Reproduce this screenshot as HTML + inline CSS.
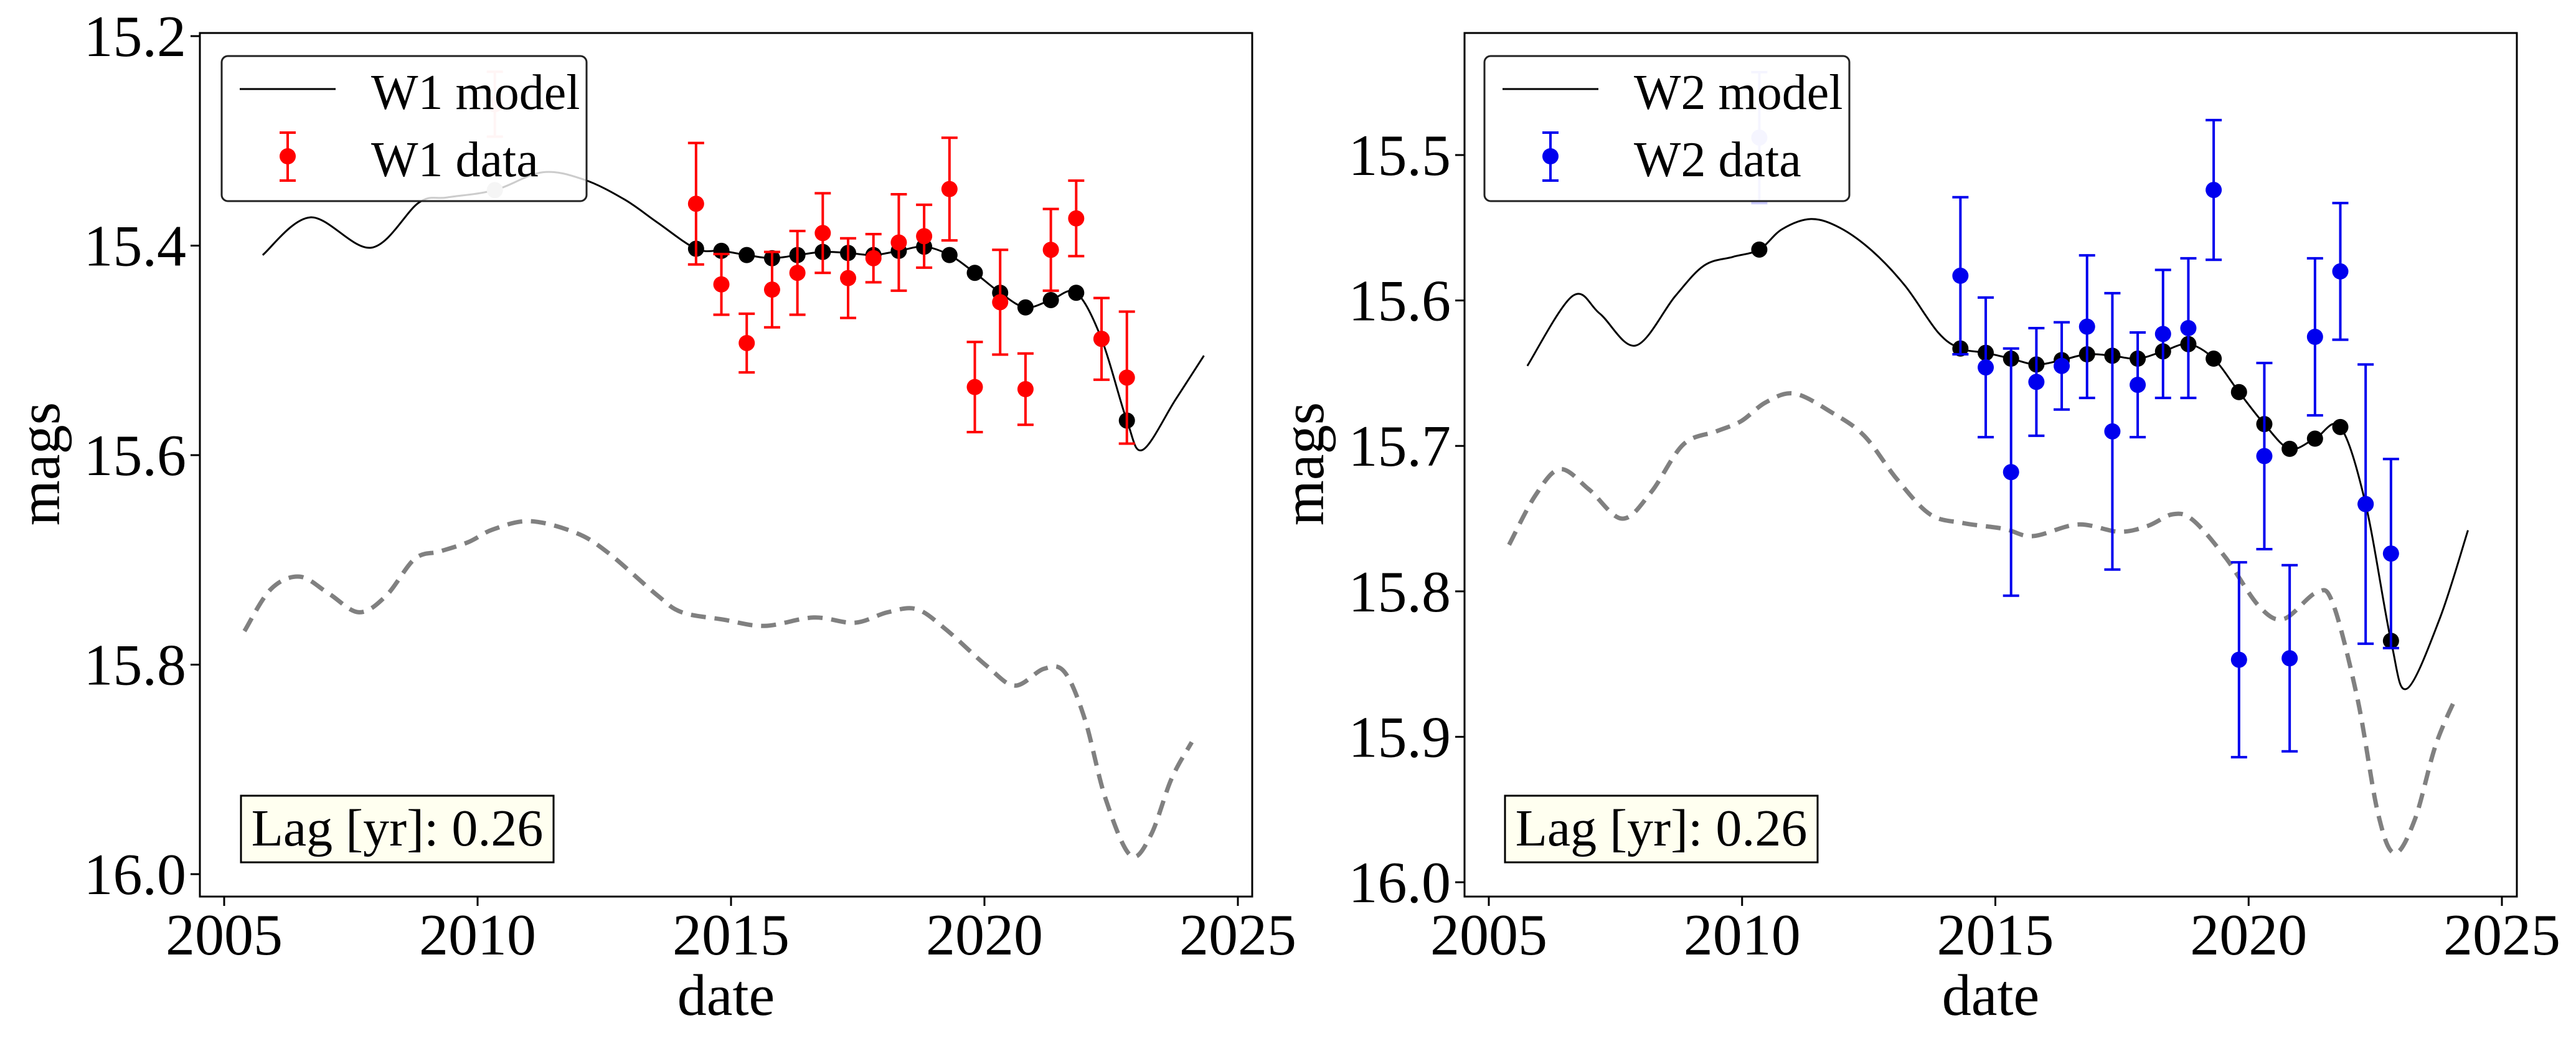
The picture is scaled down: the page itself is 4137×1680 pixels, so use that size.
<!DOCTYPE html>
<html><head><meta charset="utf-8"><style>
html,body{margin:0;padding:0;background:#fff}
svg{display:block;font-family:"Liberation Serif",serif}
text{font-family:"Liberation Serif",serif}
</style></head><body>
<svg id="fig" width="4137" height="1680" viewBox="0 0 4137 1680" xmlns="http://www.w3.org/2000/svg"></svg>
<script>
const times = [2014.31,2014.81,2015.31,2015.81,2016.31,2016.81,2017.31,2017.81,2018.31,2018.81,2019.31,2019.81,2020.31,2020.81,2021.31,2021.81,2022.31,2022.81];
const w1Data = [15.360,15.437,15.493,15.442,15.426,15.388,15.431,15.412,15.397,15.391,15.346,15.535,15.454,15.537,15.404,15.374,15.489,15.526];
const w1Err = [0.058,0.029,0.028,0.036,0.04,0.038,0.038,0.023,0.046,0.03,0.049,0.043,0.05,0.034,0.039,0.036,0.039,0.063];
const w1Fit = [15.403,15.405,15.409,15.412,15.409,15.406,15.407,15.409,15.405,15.401,15.409,15.426,15.445,15.459,15.452,15.445,15.489,15.567];
const w1Faded = [2010.34,15.265,0.031,15.347];
const w1ModelT = [2005.76,2006.7,2007.9,2008.84,2009.4,2010.34,2011.28,2012.1,2012.9,2013.55];
const w1ModelM = [15.409,15.373,15.402,15.359,15.354,15.347,15.330,15.337,15.356,15.378];
const w1TailT = [2023.12,2023.77,2024.33];
const w1TailM = [15.595,15.547,15.505];
const w1DashT = [2005.4,2005.92,2006.49,2007.06,2007.66,2008.2,2008.76,2009.25,2009.82,2010.3,2011.03,2011.93,2012.57,2013.55,2014.03,2014.85,2015.66,2016.63,2017.44,2018.09,2018.66,2019.23,2020.04,2020.6,2021.17,2021.58,2021.98,2022.39,2022.88,2023.28,2023.69,2024.09];
const w1DashM = [15.768,15.728,15.716,15.732,15.750,15.734,15.699,15.692,15.683,15.671,15.663,15.674,15.693,15.734,15.750,15.757,15.763,15.755,15.760,15.750,15.747,15.766,15.801,15.820,15.804,15.807,15.852,15.928,15.982,15.963,15.909,15.874];

const w2Data = [15.583,15.646,15.718,15.656,15.645,15.618,15.690,15.658,15.623,15.619,15.524,15.847,15.707,15.846,15.625,15.580,15.740,15.774];
const w2Err = [0.054,0.048,0.085,0.037,0.03,0.049,0.095,0.036,0.044,0.048,0.048,0.067,0.064,0.064,0.054,0.047,0.096,0.065];
const w2Fit = [15.633,15.636,15.640,15.644,15.641,15.637,15.638,15.640,15.635,15.630,15.640,15.663,15.685,15.702,15.695,15.687,15.740,15.834];
const w2Faded = [2010.34,15.488,0.045,15.565];
const w2ModelT = [2005.76,2006.65,2007.19,2007.9,2008.68,2009.25,2009.82,2010.34,2010.79,2011.36,2011.93,2012.57,2013.22,2013.87];
const w2ModelM = [15.645,15.597,15.609,15.631,15.597,15.576,15.570,15.565,15.551,15.544,15.550,15.566,15.590,15.622];
const w2TailT = [2023.12,2023.77,2024.33];
const w2TailM = [15.867,15.819,15.758];
const w2DashT = [2005.4,2005.92,2006.41,2006.98,2007.63,2008.2,2008.84,2009.49,2009.98,2010.47,2011.03,2011.77,2012.41,2013.06,2013.71,2014.36,2015.17,2015.74,2016.63,2017.44,2018.01,2018.5,2018.9,2019.55,2020.2,2020.69,2021.33,2021.66,2022.15,2022.55,2022.88,2023.28,2023.69,2024.09];
const w2DashM = [15.768,15.734,15.716,15.730,15.750,15.732,15.699,15.690,15.683,15.670,15.664,15.677,15.693,15.723,15.747,15.753,15.757,15.762,15.754,15.759,15.755,15.747,15.751,15.777,15.810,15.819,15.801,15.808,15.874,15.952,15.980,15.957,15.906,15.873];

const xTicks = [2005,2010,2015,2020,2025];
const w1YTicks = [15.2,15.4,15.6,15.8,16.0];
const w2YTicks = [15.5,15.6,15.7,15.8,15.9,16.0];

const NS="http://www.w3.org/2000/svg";
const svg=document.getElementById('fig');
function mk(tag,attrs,parent){const e=document.createElementNS(NS,tag);for(const k in attrs)e.setAttribute(k,attrs[k]);(parent||svg).appendChild(e);return e;}
function spline(pts){let d=`M${pts[0][0]},${pts[0][1]}`;for(let i=0;i<pts.length-1;i++){const p0=pts[Math.max(0,i-1)],p1=pts[i],p2=pts[i+1],p3=pts[Math.min(pts.length-1,i+2)];const c1=[p1[0]+(p2[0]-p0[0])/6,p1[1]+(p2[1]-p0[1])/6],c2=[p2[0]-(p3[0]-p1[0])/6,p2[1]-(p3[1]-p1[1])/6];d+=` C${c1[0]},${c1[1]} ${c2[0]},${c2[1]} ${p2[0]},${p2[1]}`;}return d;}
const FF='"Liberation Serif", serif';

function panel(cfg){
  const g=mk('g',{});
  
  
  const X=t=>cfg.x0+(t-2005)*(cfg.x1-cfg.x0)/20;
  const Y=m=>cfg.y0+(m-cfg.m0)*(cfg.y1-cfg.y0)/(cfg.m1-cfg.m0);
  const dp=cfg.dashT.map((t,i)=>[X(t),Y(cfg.dashM[i])]);
  const dash=mk('path',{d:spline(dp),fill:'none',stroke:'#808080','stroke-width':7,'stroke-dasharray':'24,14'},g);
  
  
  const mt=cfg.modelT.concat(times,cfg.tailT), mm=cfg.modelM.concat(cfg.fit,cfg.tailM);
  const mp=mt.map((t,i)=>[X(t),Y(mm[i])]);
  const model=mk('path',{d:spline(mp),fill:'none',stroke:'#000','stroke-width':3},g);
  
  
  const f=cfg.faded, fx=X(f[0]);
  const fe=mk('g',{stroke:cfg.fadeCol,'stroke-width':4},g);
  
  
  mk('line',{x1:fx,x2:fx,y1:Y(f[1]-f[2]),y2:Y(f[1]+f[2])},fe);
  mk('line',{x1:fx-13,x2:fx+13,y1:Y(f[1]-f[2]),y2:Y(f[1]-f[2])},fe);
  mk('line',{x1:fx-13,x2:fx+13,y1:Y(f[1]+f[2]),y2:Y(f[1]+f[2])},fe);
  mk('circle',{cx:fx,cy:Y(f[1]),r:13,fill:cfg.fadeCol,stroke:'none'},fe);
  const ff=mk('circle',{cx:fx,cy:Y(f[3]),r:13,fill:cfg.fadeFit},g);
  
  
  times.forEach((t,i)=>{const c=mk('circle',{cx:X(t),cy:Y(cfg.fit[i]),r:13,fill:'#000'},g);
    
    });
  times.forEach((t,i)=>{const x=X(t),m=cfg.data[i],e=cfg.err[i];
    const eg=mk('g',{stroke:cfg.col,'stroke-width':4},g);
    
    
    mk('line',{x1:x,x2:x,y1:Y(m-e),y2:Y(m+e)},eg);
    mk('line',{x1:x-13,x2:x+13,y1:Y(m-e),y2:Y(m-e)},eg);
    mk('line',{x1:x-13,x2:x+13,y1:Y(m+e),y2:Y(m+e)},eg);
    mk('circle',{cx:x,cy:Y(m),r:13,fill:cfg.col,stroke:'none'},eg);});
  const fr=mk('rect',{x:cfg.x0-39,y:53,width:cfg.fx1-cfg.x0+39,height:1387,fill:'none',stroke:'#000','stroke-width':3},g);
  
  
  const L=cfg.x0-39;
  xTicks.forEach(t=>{const x=X(t);mk('line',{x1:x,x2:x,y1:1440,y2:1455,stroke:'#000','stroke-width':3},g);
    const tx=mk('text',{x:x,y:1533,'font-size':94,'text-anchor':'middle','font-family':FF},g);tx.textContent=t;
    
    });
  cfg.yTicks.forEach(v=>{const y=Y(v);mk('line',{x1:L,x2:L-15,y1:y,y2:y,stroke:'#000','stroke-width':3},g);
    const tx=mk('text',{x:L-22,y:y+32,'font-size':94,'text-anchor':'end','font-family':FF},g);tx.textContent=v.toFixed(1);
    
    });
  const xl=mk('text',{x:(L+cfg.fx1)/2,y:1630,'font-size':94,'text-anchor':'middle','font-family':FF},g);xl.textContent='date';
  
  
  const yl=mk('text',{x:0,y:0,'font-size':94,'text-anchor':'middle','font-family':FF,transform:`translate(${cfg.ylx},745) rotate(-90)`},g);yl.textContent='mags';
  
  
  const lg=mk('g',{},g);
  
  
  const lx=cfg.legX;
  mk('rect',{x:lx,y:90,width:586,height:233,rx:10,fill:'rgba(255,255,255,0.8)',stroke:'#222','stroke-width':3},lg);
  mk('line',{x1:lx+29,x2:lx+183,y1:143,y2:143,stroke:'#000','stroke-width':3},lg);
  const t1=mk('text',{x:lx+240,y:175,'font-size':80,'font-family':FF},lg);t1.textContent=cfg.name+' model';
  
  
  mk('line',{x1:lx+106,x2:lx+106,y1:213,y2:290,stroke:cfg.col,'stroke-width':4},lg);
  mk('line',{x1:lx+93,x2:lx+119,y1:213,y2:213,stroke:cfg.col,'stroke-width':4},lg);
  mk('line',{x1:lx+93,x2:lx+119,y1:290,y2:290,stroke:cfg.col,'stroke-width':4},lg);
  mk('circle',{cx:lx+106,cy:251,r:13,fill:cfg.col},lg);
  const t2=mk('text',{x:lx+240,y:283,'font-size':80,'font-family':FF},lg);t2.textContent=cfg.name+' data';
  
  
  const lb=mk('g',{},g);
  
  
  mk('rect',{x:cfg.lagX,y:1278,width:502,height:107,fill:'#fffff0',stroke:'#000','stroke-width':3},lb);
  const lt=mk('text',{x:cfg.lagX+251,y:1358,'font-size':84,'text-anchor':'middle','font-family':FF},lb);lt.textContent='Lag [yr]: 0.26';
}
panel({name:'W1',x0:360,x1:1988,fx1:2011,y0:58,y1:1404,m0:15.2,m1:16.0,data:w1Data,err:w1Err,fit:w1Fit,faded:w1Faded,modelT:w1ModelT,modelM:w1ModelM,tailT:w1TailT,tailM:w1TailM,dashT:w1DashT,dashM:w1DashM,yTicks:w1YTicks,col:'#ff0000',fadeCol:'#ffcccc',fadeFit:'#cccccc',legX:356,lagX:387,ylx:95});
panel({name:'W2',x0:2391,x1:4018,fx1:4042,y0:249,y1:1417,m0:15.5,m1:16.0,data:w2Data,err:w2Err,fit:w2Fit,faded:w2Faded,modelT:w2ModelT,modelM:w2ModelM,tailT:w2TailT,tailM:w2TailM,dashT:w2DashT,dashM:w2DashM,yTicks:w2YTicks,col:'#0000ee',fadeCol:'#ccccff',fadeFit:'#000000',legX:2384,lagX:2417,ylx:2125});
</script>
</body></html>
